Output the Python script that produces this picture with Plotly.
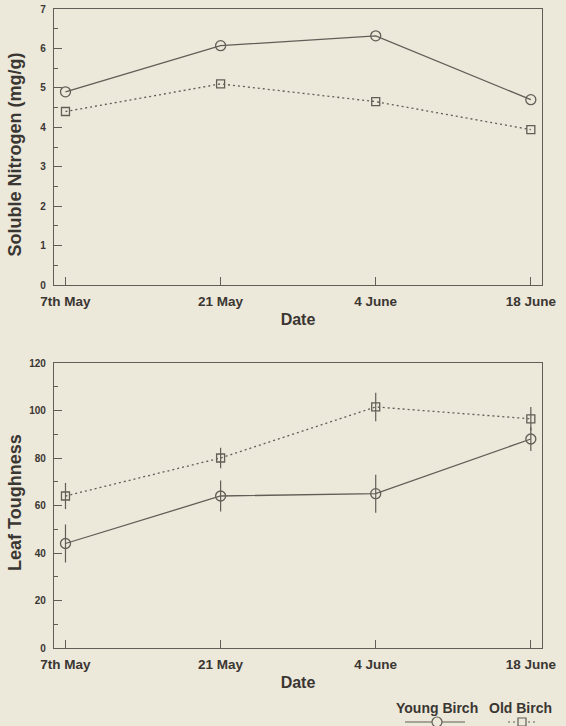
import plotly.graph_objects as go

dates = ["7th May", "21 May", "4 June", "18 June"]

nitrogen_young = [4.90, 6.07, 6.32, 4.70]
nitrogen_old = [4.40, 5.10, 4.65, 3.94]

tough_young = [44.0, 64.0, 65.0, 88.0]
tough_young_err = [8.0, 6.5, 8.0, 5.0]
tough_old = [64.0, 80.0, 101.5, 96.5]
tough_old_err = [5.5, 4.3, 6.0, 5.0]

BG = "#ece8da"
INK = "#625d57"
TXT = "#3a3632"
FONT = "Liberation Sans, Arial, sans-serif"
DOT = "2px,3px"

W, H = 566, 726
L, R, T, B = 54, 24, 9, 78
PW = W - L - R
PH = H - T - B


def ydom(top_px, bottom_px):
    return [(H - B - bottom_px) / PH, (H - B - top_px) / PH]


def px_x(px):
    return (px - L) / PW


def px_y(py):
    return (H - B - py) / PH


fig = go.Figure()

fig.add_trace(go.Scatter(x=dates, y=nitrogen_young, mode="lines+markers", name="Young Birch",
                         line=dict(color=INK, width=1.3),
                         marker=dict(symbol="circle-open", size=10, color=INK, line=dict(width=1.3)),
                         xaxis="x", yaxis="y", showlegend=False))
fig.add_trace(go.Scatter(x=dates, y=nitrogen_old, mode="lines+markers", name="Old Birch",
                         line=dict(color=INK, width=1.3, dash=DOT),
                         marker=dict(symbol="square-open", size=8, color=INK, line=dict(width=1.3)),
                         xaxis="x", yaxis="y", showlegend=False))

fig.add_trace(go.Scatter(x=dates, y=tough_young, mode="lines+markers", name="Young Birch",
                         line=dict(color=INK, width=1.3),
                         error_y=dict(type="data", array=tough_young_err, color=INK, thickness=1.2, width=0),
                         marker=dict(symbol="circle-open", size=10, color=INK, line=dict(width=1.3)),
                         xaxis="x2", yaxis="y2", showlegend=False))
fig.add_trace(go.Scatter(x=dates, y=tough_old, mode="lines+markers", name="Old Birch",
                         line=dict(color=INK, width=1.3, dash=DOT),
                         error_y=dict(type="data", array=tough_old_err, color=INK, thickness=1.2, width=0),
                         marker=dict(symbol="square-open", size=8, color=INK, line=dict(width=1.3)),
                         xaxis="x2", yaxis="y2", showlegend=False))

xtickfont = dict(family=FONT, size=13.5, color=TXT, weight="bold")
ytickfont = dict(family=FONT, size=10, color=TXT, weight="bold")
xtitlefont = dict(family=FONT, size=16, color=TXT, weight="bold")
ytitlefont = dict(family=FONT, size=18, color=TXT, weight="bold")

common_x = dict(type="category", range=[-0.074, 3.072], showline=True, mirror=True,
                linecolor=INK, linewidth=1.3, ticks="inside", ticklen=8, tickcolor=INK,
                tickwidth=1.2, tickfont=xtickfont, showgrid=False, zeroline=False,
                automargin=False, ticklabelstandoff=4)
common_y = dict(showline=True, mirror=True, linecolor=INK, linewidth=1.3, ticks="inside",
                ticklen=8, tickcolor=INK, tickwidth=1.2, tickfont=ytickfont, showgrid=False,
                zeroline=False, automargin=False, ticklabelstandoff=5)

fig.update_layout(
    width=W, height=H,
    margin=dict(l=L, r=R, t=T, b=B),
    paper_bgcolor=BG, plot_bgcolor=BG,
    font=dict(family=FONT, color=TXT),
    xaxis=dict(domain=[0, 1], anchor="y", **common_x,
               title=dict(text="Date", font=xtitlefont, standoff=5)),
    yaxis=dict(domain=ydom(9, 285), anchor="x", range=[0, 7], dtick=1, **common_y,
               minor=dict(dtick=0.5, ticks="inside", ticklen=4, tickcolor=INK, showgrid=False)),
    xaxis2=dict(domain=[0, 1], anchor="y2", **common_x,
                title=dict(text="Date", font=xtitlefont, standoff=5)),
    yaxis2=dict(domain=ydom(363, 648), anchor="x2", range=[0, 120], dtick=20, **common_y,
                minor=dict(dtick=10, ticks="inside", ticklen=4, tickcolor=INK, showgrid=False)),
)

# Y axis titles placed as rotated text
fig.add_annotation(text="Soluble Nitrogen (mg/g)", xref="paper", yref="paper",
                   x=px_x(15), y=px_y(154.5), xanchor="center", yanchor="middle",
                   textangle=-90, showarrow=False, font=ytitlefont)
fig.add_annotation(text="Leaf Toughness", xref="paper", yref="paper",
                   x=px_x(15), y=px_y(503), xanchor="center", yanchor="middle",
                   textangle=-90, showarrow=False, font=ytitlefont)

# Legend drawn below the lower panel (text above symbol)
legfont = dict(family=FONT, size=14, color=TXT, weight="bold")
fig.add_annotation(text="Young Birch", xref="paper", yref="paper", x=px_x(436.5), y=px_y(708),
                   xanchor="center", yanchor="middle", showarrow=False, font=legfont)
fig.add_annotation(text="Old Birch", xref="paper", yref="paper", x=px_x(520.5), y=px_y(708),
                   xanchor="center", yanchor="middle", showarrow=False, font=legfont)
fig.add_shape(type="line", xref="paper", yref="paper", x0=px_x(405), x1=px_x(465),
              y0=px_y(722), y1=px_y(722), line=dict(color=INK, width=1.2))
fig.add_shape(type="circle", xref="paper", yref="paper", xsizemode="pixel", ysizemode="pixel",
              xanchor=px_x(437), yanchor=px_y(722), x0=-5, x1=5, y0=-5, y1=5,
              line=dict(color=INK, width=1.2), fillcolor=BG)
fig.add_shape(type="line", xref="paper", yref="paper", x0=px_x(508), x1=px_x(537),
              y0=px_y(722), y1=px_y(722), line=dict(color=INK, width=1.2, dash=DOT))
fig.add_shape(type="rect", xref="paper", yref="paper", xsizemode="pixel", ysizemode="pixel",
              xanchor=px_x(522), yanchor=px_y(722), x0=-4, x1=4, y0=-4, y1=4,
              line=dict(color=INK, width=1.2), fillcolor=BG)

fig.write_html("out.html", config={"displayModeBar": False},
               post_script="document.body.style.margin='0';document.body.style.overflow='hidden';"
                           "document.body.style.background='" + BG + "';")
